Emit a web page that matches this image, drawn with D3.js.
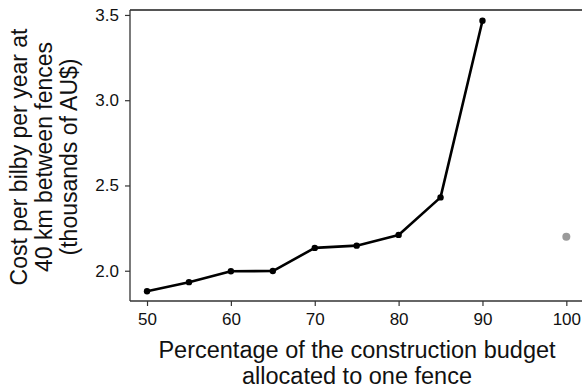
<!DOCTYPE html>
<html>
<head>
<meta charset="utf-8">
<script src="https://cdn.jsdelivr.net/npm/d3@7"></script>
<style>
  body { margin: 0; background: #fff; }
  svg text { font-family: "Liberation Sans", Arial, Helvetica, sans-serif; }
</style>
</head>
<body>
<svg id="chart" width="582" height="387"></svg>
<script>
// budget share (%) and cost per bilby (thousands AU$)
const budgetPct = [50, 55, 60, 65, 70, 75, 80, 85, 90];
const costPerBilby = [1.88, 1.933, 1.997, 1.998, 2.134, 2.147, 2.21, 2.43, 3.466];
// single fence (100%) shown separately in grey
const singlePct = [100];
const singleCost = [2.2];

const xTicks = [50, 60, 70, 80, 90, 100];
const yTicks = [2.0, 2.5, 3.0, 3.5];

const svg = d3.select('#chart');

const plotLeft = 130, plotRight = 620, plotTop = 10, plotBottom = 301;

const x = d3.scaleLinear().domain([47.97, 106.4]).range([plotLeft, plotRight]);
const y = d3.scaleLinear().domain([1.8225, 3.529]).range([plotBottom, plotTop]);

// top border of the panel
svg.append('line')
    .attr('x1', plotLeft).attr('x2', 582)
    .attr('y1', plotTop).attr('y2', plotTop)
    .style('stroke', '#555')
    .style('stroke-width', 2);

// y axis
const yAxis = svg.append('g')
    .attr('transform', `translate(${plotLeft},0)`)
    .call(d3.axisLeft(y).tickValues(yTicks).tickFormat(d3.format('.1f')).tickSize(5).tickSizeOuter(0).tickPadding(6));

// x axis
const xAxis = svg.append('g')
    .attr('transform', `translate(0,${plotBottom})`)
    .call(d3.axisBottom(x).tickValues(xTicks).tickSize(5).tickSizeOuter(0).tickPadding(7));

[yAxis, xAxis].forEach(ax => {
    ax.select('.domain').style('stroke', '#333').style('stroke-width', 1.3);
    ax.selectAll('.tick line').style('stroke', '#333').style('stroke-width', 1.2);
    ax.selectAll('.tick text')
        .style('font-size', '17px')
        .style('fill', '#111');
});

// axis lines run the full panel
yAxis.select('.domain').attr('d', `M0,${plotBottom}V${plotTop}`);
xAxis.select('.domain').attr('d', `M${plotLeft},0H582`);

const points = budgetPct.map((p, i) => ({x: p, y: costPerBilby[i]}));

const lineFunction = d3.line()
    .x(d => x(d.x))
    .y(d => y(d.y));

svg.append('path')
    .attr('d', lineFunction(points))
    .style('fill', 'none')
    .style('stroke', '#000')
    .style('stroke-width', 2.6)
    .style('stroke-linejoin', 'round');

svg.append('g').selectAll('circle')
    .data(points)
    .enter().append('circle')
    .attr('cx', d => x(d.x))
    .attr('cy', d => y(d.y))
    .attr('r', 3.2)
    .style('fill', '#000');

svg.append('g').selectAll('circle')
    .data(singlePct.map((p, i) => ({x: p, y: singleCost[i]})))
    .enter().append('circle')
    .attr('cx', d => x(d.x))
    .attr('cy', d => y(d.y))
    .attr('r', 4)
    .style('fill', '#9a9a9a');

// axis titles
const xTitle = svg.append('text')
    .attr('text-anchor', 'middle')
    .style('font-size', '23.5px')
    .style('fill', '#111');
xTitle.append('tspan').attr('x', 357).attr('y', 358).text('Percentage of the construction budget');
xTitle.append('tspan').attr('x', 357).attr('y', 383.5).text('allocated to one fence');

const yTitle = svg.append('text')
    .attr('text-anchor', 'middle')
    .attr('transform', 'translate(0,157) rotate(-90)')
    .style('font-size', '23px')
    .style('fill', '#111');
['Cost per bilby per year at', '40 km between fences', '(thousands of AU$)'].forEach((t, i) => {
    yTitle.append('tspan').attr('x', 0).attr('y', 26.5 + i * 25).text(t);
});
</script>
</body>
</html>
